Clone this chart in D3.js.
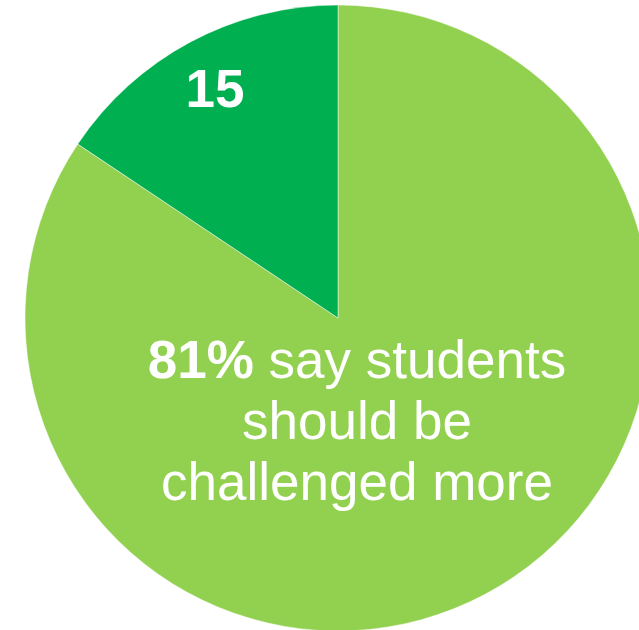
<!DOCTYPE html>
<html>
<head>
<meta charset="utf-8">
<script src="https://cdn.jsdelivr.net/npm/d3@7"></script>
<style>
  html, body { margin: 0; padding: 0; background: #ffffff; }
  svg { display: block; }
</style>
</head>
<body>
<script>
// Survey responses: share agreeing vs. not
const categories = ["Should be challenged more", "Other"];
const values = [81, 15];
const colors = ["#92D050", "#00AF50"];
const sliceLabels = ["", "15"];
const mainLabelBold = "81%";
const mainLabelLines = [" say students", "should be", "challenged more"];

const width = 639, height = 630;
const cx = 338, cy = 318, radius = 313;

const svg = d3.select("body").append("svg")
  .attr("width", width)
  .attr("height", height);

const g = svg.append("g").attr("transform", `translate(${cx},${cy})`);

const pie = d3.pie().sort(null).value(d => d);
const arcs = pie(values);
const arc = d3.arc().innerRadius(0).outerRadius(radius);

g.selectAll("path.slice")
  .data(arcs)
  .join("path")
  .attr("class", "slice")
  .attr("d", arc)
  .attr("fill", (d, i) => colors[i])
  .attr("stroke", "#ffffff")
  .attr("stroke-opacity", 0.6)
  .attr("stroke-width", 0.8);

const fontFamily = "'Liberation Sans', Arial, Helvetica, sans-serif";

// Value label inside the small slice, placed toward the rim
const labelArc = d3.arc().innerRadius(radius * 0.834).outerRadius(radius * 0.834);
g.selectAll("text.value")
  .data(arcs.filter((d, i) => sliceLabels[i] !== ""))
  .join("text")
  .attr("class", "value")
  .attr("x", d => labelArc.centroid(d)[0])
  .attr("y", d => labelArc.centroid(d)[1])
  .attr("dy", "0.36em")
  .attr("text-anchor", "middle")
  .attr("font-family", fontFamily)
  .attr("font-weight", "bold")
  .attr("font-size", 53)
  .attr("fill", "#ffffff")
  .text((d) => sliceLabels[arcs.indexOf(d)]);

// Headline label inside the large slice
const main = svg.append("text")
  .attr("text-anchor", "middle")
  .attr("font-family", fontFamily)
  .attr("font-size", 53)
  .attr("fill", "#ffffff");

const textX = 357, firstBaseline = 378, lineStep = 61;
const l1 = main.append("tspan").attr("x", textX).attr("y", firstBaseline);
l1.append("tspan").attr("font-weight", "bold").text(mainLabelBold);
l1.append("tspan").text(mainLabelLines[0]);
mainLabelLines.slice(1).forEach((t, i) => {
  main.append("tspan")
    .attr("x", textX)
    .attr("y", firstBaseline + lineStep * (i + 1))
    .text(t);
});
</script>
</body>
</html>
